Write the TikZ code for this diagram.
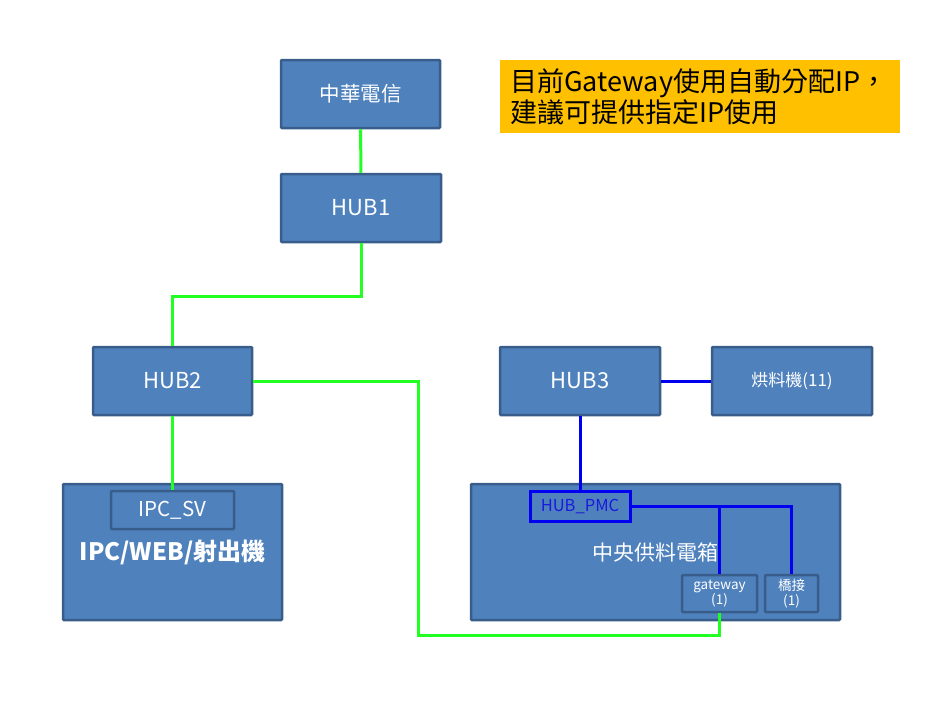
\documentclass[tikz,border=0pt]{standalone}
\usepackage{fontspec}
\setmainfont{Noto Sans CJK TC}
\usepackage{tikz}
\definecolor{boxblue}{HTML}{4F81BD}
\definecolor{boxedge}{HTML}{385D8A}
\definecolor{linkgreen}{HTML}{22FF22}
\definecolor{linkblue}{HTML}{0000F0}
\definecolor{notegold}{HTML}{FFC000}
\definecolor{pmctext}{HTML}{1A1ADC}
\tikzstyle{unit} = [rectangle, fill=boxblue, draw=boxedge, line width=2.5pt, rounded corners=1pt, text=white, inner sep=0pt]
\tikzstyle{glink} = [line width=3pt, linkgreen]
\tikzstyle{blink} = [line width=3pt, linkblue]

\begin{document}
\begin{tikzpicture}[x=1pt,y=-1pt]
			\useasboundingbox (0,0) rectangle (941,709);
			\node[unit,minimum width=159pt,minimum height=68pt,font=\fontsize{20.5}{24}\selectfont] (cht) at (360.5,94) {中華電信};
			\node[unit,minimum width=160pt,minimum height=68pt,font=\fontsize{22}{26}\selectfont] (hubone) at (361,208) {HUB1};
			\node[unit,minimum width=159pt,minimum height=68pt,font=\fontsize{22}{26}\selectfont] (hubtwo) at (172.5,381) {HUB2};
			\node[unit,minimum width=160pt,minimum height=68pt,font=\fontsize{22}{26}\selectfont] (hubthree) at (580,381) {HUB3};
			\node[unit,minimum width=160pt,minimum height=68pt,font=\fontsize{17}{20}\selectfont] (dryer) at (792,381) {烘料機(11)};
			\node[unit,minimum width=219pt,minimum height=136pt,font=\fontsize{24}{28}\selectfont\bfseries] (ipcweb) at (172.5,552) {IPC/WEB/射出機};
			\node[unit,minimum width=123pt,minimum height=38pt,font=\fontsize{20.5}{24}\selectfont] (ipcsv) at (172.5,510) {IPC\_SV};
			\node[unit,minimum width=369pt,minimum height=136pt,font=\fontsize{21}{24}\selectfont] (feeder) at (655.5,552) {中央供料電箱};
			\node[rectangle,draw=linkblue,line width=3pt,text=pmctext,inner sep=0pt,minimum width=100pt,minimum height=30pt,font=\fontsize{16.5}{19}\selectfont] (hubpmc) at (580,506) {HUB\_PMC};
			\node[unit,minimum width=75pt,minimum height=37pt,align=center,font=\fontsize{13.5}{15}\selectfont] (gateway) at (719.5,593.5) {gateway\\(1)};
			\node[unit,minimum width=53pt,minimum height=37pt,align=center,font=\fontsize{13.5}{15}\selectfont] (bridge) at (791.5,593.5) {橋接\\(1)};
			\node[rectangle,fill=notegold,anchor=north west,minimum width=400pt,minimum height=73pt,text width=380pt,inner xsep=10pt,inner ysep=6pt,align=left,font=\fontsize{27}{31}\selectfont] (note) at (500,60) {目前Gateway使用自動分配IP，\\建議可提供指定IP使用};
			\coordinate (gwturn) at (418,635);
			\draw[glink] (cht) -- (hubone);
			\draw[glink] (hubone.south) -- ++(0,53) -| (hubtwo.north);
			\draw[glink] (hubtwo) -- (ipcsv);
			\draw[glink] (hubtwo.east) -| (gwturn) -| (gateway.south);
			\draw[blink] (hubthree) -- (dryer);
			\draw[blink] (hubthree) -- (hubpmc);
			\draw[blink] (hubpmc.east) -| (bridge.north);
			\draw[blink] (gateway.north) |- (hubpmc.east);
		\end{tikzpicture}
\end{document}
